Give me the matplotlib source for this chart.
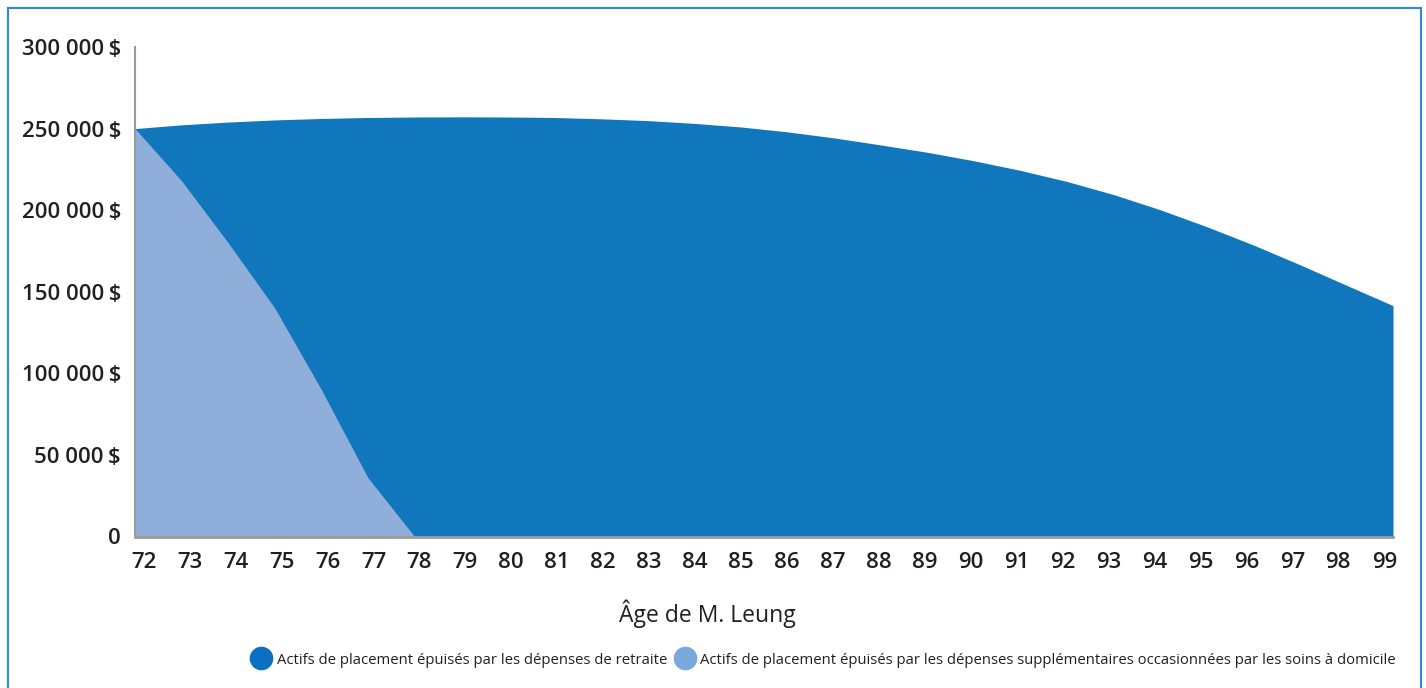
import numpy as np
import matplotlib.pyplot as plt
from matplotlib.lines import Line2D
from matplotlib.patches import Rectangle

plt.rcParams['font.family'] = ['Open Sans', 'DejaVu Sans']

# ages 72 to 99
ages = list(range(72, 100))

# assets drawn down by retirement spending
retraite = [250000, 252300, 254000, 255300, 256200, 256800, 257100, 257200,
            257100, 256800, 256000, 254900, 253200, 251000, 248000, 244300,
            240000, 235500, 230300, 224400, 217600, 209600, 200300, 189900,
            178700, 166600, 154000, 141500]

# assets drawn down by the extra home care spending
soins_ages = [72, 73, 74, 75, 76, 77, 78]
soins = [250000, 218000, 180000, 140000, 90000, 36000, 0]

y_ticks = [0, 50000, 100000, 150000, 200000, 250000, 300000]

dark = '#1077bd'
light = '#8faed9'
text_col = '#231f20'

fig = plt.figure(figsize=(14.26, 6.88), dpi=100)
ax = fig.add_axes([135 / 1426, 1 - 536.5 / 688, 1258 / 1426, 489.5 / 688])

ax.fill_between(ages, retraite, color=dark, lw=0)
ax.fill_between(soins_ages, soins, color=light, lw=0)

ax.set_xlim(72, 99)
ax.set_ylim(0, 300000)

for s in ['top', 'right']:
    ax.spines[s].set_visible(False)
ax.spines['left'].set_color('#9a9a9a')
ax.spines['left'].set_linewidth(1.5)
ax.spines['bottom'].set_color('#9a9a9a')
ax.spines['bottom'].set_linewidth(2)

def fmt(v):
    if v == 0:
        return '0'
    return f'{v:,}'.replace(',', ' ') + '\u2009$'

ax.set_yticks(y_ticks)
ax.set_yticklabels([fmt(v) for v in y_ticks])

# labels sit slightly inside the ends of the axis
pad = 0.187
ax.set_xticks(np.linspace(ages[0] + pad, ages[-1] - pad, len(ages)))
ax.set_xticklabels([str(a) for a in ages])

ax.tick_params(axis='both', length=0, labelsize=16, labelcolor=text_col)
ax.tick_params(axis='y', pad=10)
ax.tick_params(axis='x', pad=11)
for lab in ax.get_xticklabels() + ax.get_yticklabels():
    lab.set_fontweight('semibold')

ax.set_xlabel('Âge de M. Leung', fontsize=16.5, color=text_col)
ax.xaxis.set_label_coords((707 - 135) / 1258, -0.128)

handles = [
    Line2D([], [], ls='none', marker='o', markersize=16, color='#0a71c2'),
    Line2D([], [], ls='none', marker='o', markersize=16, color='#7aa8dc'),
]
labels = [
    'Actifs de placement épuisés par les dépenses de retraite',
    'Actifs de placement épuisés par les dépenses supplémentaires '
    'occasionnées par les soins à domicile',
]
fig.legend(handles, labels, loc='center right', ncol=2, frameon=False,
           bbox_to_anchor=(1396 / 1426, 1 - 660 / 688), fontsize=10.7,
           handletextpad=0.45, columnspacing=0.6, handlelength=1.2,
           borderpad=0, borderaxespad=0, labelcolor=text_col)

# thin blue frame around the figure
fig.add_artist(Rectangle((7.5 / 1426, -0.02), 1413 / 1426, 1.02 - 7.5 / 688,
                         transform=fig.transFigure, fill=False,
                         edgecolor='#2f8ad6', linewidth=1.5, clip_on=False))

fig.savefig('out.png', dpi=100)
